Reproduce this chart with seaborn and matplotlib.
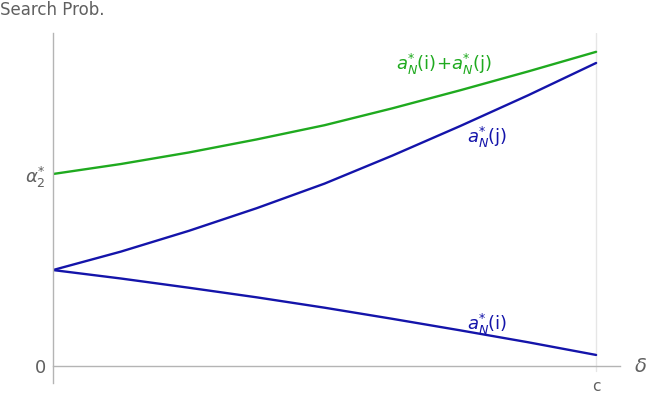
import numpy as np
import pandas as pd
import matplotlib
matplotlib.use("Agg")
import matplotlib.pyplot as plt
import seaborn as sns

# values (x in units of c, y in units where alpha2* = 0.5)
delta = [0.0, 0.125, 0.25, 0.375, 0.5, 0.625, 0.75, 0.875, 1.0]
a_i = [0.25, 0.228, 0.204, 0.179, 0.152, 0.123, 0.093, 0.062, 0.029]
a_j = [0.25, 0.298, 0.352, 0.411, 0.475, 0.548, 0.625, 0.705, 0.789]
a_sum = [0.50, 0.526, 0.556, 0.590, 0.627, 0.671, 0.718, 0.767, 0.818]

ytick_vals = [0, 0.5]
ytick_labels = ["0", r"$\alpha^{*}_{2}$"]
xtick_vals = [1.0]
xtick_labels = ["c"]

sns.set_style("white")
plt.rcParams["font.family"] = ["DejaVu Sans"]
plt.rcParams["mathtext.fontset"] = "dejavusans"

df = pd.DataFrame({
    "delta": delta * 3,
    "value": a_i + a_j + a_sum,
    "series": ["i"] * len(delta) + ["j"] * len(delta) + ["sum"] * len(delta),
})

green = "#1faa1f"
blue = "#1414aa"
gray = "#b4b4b4"
txt = "#606060"

fig = plt.figure(figsize=(6.48, 3.98), dpi=100)
ax = fig.add_axes([53 / 648, 1 - 383 / 398, (620 - 53) / 648, (383 - 33) / 398])

sns.lineplot(data=df, x="delta", y="value", hue="series",
             palette={"i": blue, "j": blue, "sum": green},
             linewidth=1.7, legend=False, ax=ax)

ax.set_xlim(0, 1.044)
ax.set_ylim(-0.044, 0.867)

ax.axvline(1.0, ymin=0.044 / 0.911 - 0.015, color="#e6e6e6", lw=1, zorder=0)

for s in ["top", "right"]:
    ax.spines[s].set_visible(False)
ax.spines["bottom"].set_position(("data", 0))
ax.spines["left"].set_position(("data", 0))
for s in ["bottom", "left"]:
    ax.spines[s].set_color(gray)
    ax.spines[s].set_linewidth(1)

ax.set_yticks(ytick_vals)
ax.set_yticklabels(ytick_labels)
ax.set_xticks(xtick_vals)
ax.set_xticklabels(xtick_labels)
ax.tick_params(axis="y", length=0, pad=5, labelsize=13, labelcolor=txt)
ax.tick_params(axis="x", length=6, width=1, color="#e0e0e0", pad=3,
               labelsize=11, labelcolor=txt)
ax.set_xlabel("")
ax.set_ylabel("")

fig.text(0.0, 1 - 10 / 398, "Search Prob.", fontsize=12, color=txt,
         ha="left", va="center")
fig.text(634 / 648, 1 - 367 / 398, r"$\delta$", fontsize=14, color=txt,
         ha="left", va="center")

ax.text(0.72, 0.752, r"$a^{*}_{N}$(i)+$a^{*}_{N}$(j)", color=green,
        fontsize=13, ha="center", va="bottom")
ax.text(0.762, 0.563, r"$a^{*}_{N}$(j)", color=blue,
        fontsize=13, ha="left", va="bottom")
ax.text(0.762, 0.077, r"$a^{*}_{N}$(i)", color=blue,
        fontsize=13, ha="left", va="bottom")

fig.savefig("out.png", dpi=100)
